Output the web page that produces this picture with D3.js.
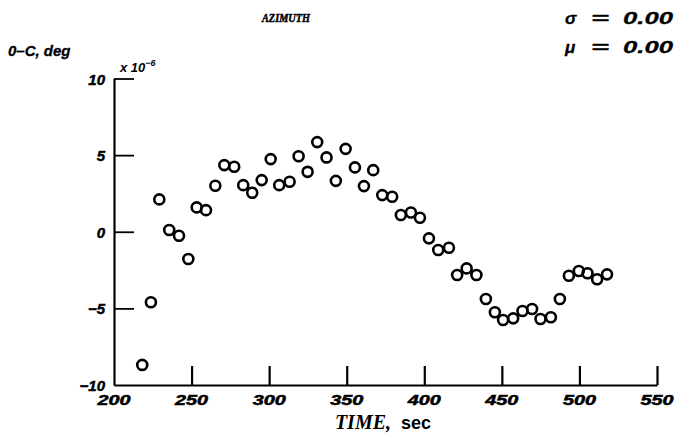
<!DOCTYPE html>
<html><head><meta charset="utf-8">
<script src="https://cdn.jsdelivr.net/npm/d3@7"></script>
<style>body{margin:0;background:#fff}svg{display:block}</style>
</head><body>
<svg id="c" width="684" height="445"></svg>
<script>
const timeSec = [218.2,223.8,229.2,235.6,241.9,247.9,253.3,259.3,265.3,271.1,277.5,283.3,289.1,295.2,301.0,306.5,313.2,319.0,324.8,331.0,337.0,343.0,349.3,355.3,361.1,367.1,372.9,379.3,384.9,391.4,397.2,403.0,409.0,415.9,421.2,427.3,433.6,439.7,445.5,450.8,457.3,463.3,469.5,474.9,481.6,487.4,493.2,499.6,505.2,511.4,517.8];
const ocValues = [-8.69,-4.60,2.11,0.11,-0.26,-1.78,1.59,1.41,3.00,4.35,4.24,3.04,2.54,3.37,4.74,3.04,3.26,4.93,3.91,5.85,4.85,3.32,5.41,4.20,2.98,4.02,2.39,2.28,1.09,1.26,0.91,-0.43,-1.19,-1.04,-2.82,-2.39,-2.82,-4.39,-5.25,-5.76,-5.65,-5.17,-5.04,-5.69,-5.58,-4.39,-2.87,-2.56,-2.71,-3.10,-2.78];
const xTicks = [200,250,300,350,400,450,500,550];
const yTicks = [-10,-5,0,5,10];
const title = "AZIMUTH";
const statSymbols = ["σ","μ"];
const statValues = ["0.00","0.00"];

const svg = d3.select("#c");
const x = d3.scaleLinear().domain([200,550]).range([114,657]);
const y = d3.scaleLinear().domain([-10,10]).range([385,78.5]);
const lab = "'Liberation Sans', Arial, sans-serif";

// axes
const xa = svg.append("g").attr("transform",`translate(0,${y(-10)})`)
  .call(d3.axisTop(x).tickValues(xTicks).tickSize(19).tickSizeOuter(0).tickFormat(""));
xa.select(".domain").attr("stroke","#000").attr("stroke-width",2.2);
xa.selectAll(".tick line").attr("stroke","#000").attr("stroke-width",2.2);
xa.selectAll(".tick").filter(d=>d===200).select("line").remove();

const ya = svg.append("g").attr("transform",`translate(${x(200)},0)`)
  .call(d3.axisRight(y).tickValues(yTicks).tickSize(20).tickSizeOuter(0).tickFormat(""));
ya.select(".domain").attr("stroke","#000").attr("stroke-width",2.2);
ya.selectAll(".tick line").attr("stroke","#000").attr("stroke-width",1.8);
ya.selectAll(".tick").filter(d=>d===-10).select("line").remove();

// tick labels
svg.append("g").selectAll("text").data(xTicks).join("text")
  .attr("x",d=>x(d)).attr("y",y(-10)+20).attr("text-anchor","middle")
  .attr("font-family",lab).attr("font-weight","bold").attr("font-style","italic")
  .attr("font-size",14).attr("textLength",33).attr("lengthAdjust","spacingAndGlyphs")
  .attr("stroke","#000").attr("stroke-width",0.5)
  .text(d=>d);
svg.append("g").selectAll("text").data(yTicks).join("text")
  .attr("x",x(200)-9).attr("y",d=>y(d)+6).attr("text-anchor","end")
  .attr("font-family",lab).attr("font-weight","bold").attr("font-style","italic")
  .attr("font-size",15).attr("stroke","#000").attr("stroke-width",0.5)
  .text(d=>d<0?"−"+Math.abs(d):d);

// points
svg.append("g").selectAll("circle").data(timeSec.map((t,i)=>[t,ocValues[i]])).join("circle")
  .attr("cx",d=>x(d[0])).attr("cy",d=>y(d[1])).attr("r",5)
  .attr("fill","none").attr("stroke","#000").attr("stroke-width",2.6);

// texts
svg.append("text").attr("x",286).attr("y",22).attr("text-anchor","middle")
  .attr("font-family","'Liberation Serif', serif").attr("font-weight","bold").attr("font-style","italic")
  .attr("font-size",12).attr("textLength",48).attr("lengthAdjust","spacingAndGlyphs")
  .attr("stroke","#000").attr("stroke-width",0.5).text(title);
const stats = svg.selectAll(".stat").data(statSymbols).join("g").attr("class","stat")
  .attr("transform",(d,i)=>`translate(0,${i===0?24:53})`)
  .attr("font-family",lab).attr("font-weight","bold").attr("font-style","italic")
  .attr("font-size",17).attr("stroke","#000").attr("stroke-width",0.3);
stats.append("text").attr("x",565).text(d=>d);
stats.append("text").attr("x",591).attr("textLength",18).attr("lengthAdjust","spacingAndGlyphs").text("=");
stats.append("text").attr("x",673).attr("text-anchor","end")
  .attr("textLength",50).attr("lengthAdjust","spacingAndGlyphs").text((d,i)=>statValues[i]);
svg.append("text").attr("x",8).attr("y",56)
  .attr("font-family",lab).attr("font-weight","bold").attr("font-style","italic")
  .attr("font-size",15).attr("stroke","#000").attr("stroke-width",0.3).text("0–C, deg");
const mult = svg.append("text").attr("x",120).attr("y",72)
  .attr("font-family",lab).attr("font-weight","bold").attr("font-style","italic").attr("font-size",13);
mult.append("tspan").text("x 10");
mult.append("tspan").attr("dy",-6).attr("font-size",9).text("−6");

const xl = svg.append("text").attr("x",383).attr("y",429).attr("text-anchor","middle");
xl.append("tspan").attr("font-family","'Liberation Serif', serif").attr("font-weight","bold")
  .attr("font-style","italic").attr("font-size",20).text("TIME,");
xl.append("tspan").attr("dx",10).attr("font-family",lab).attr("font-weight","bold")
  .attr("font-size",18).text("sec");
</script>
</body></html>
